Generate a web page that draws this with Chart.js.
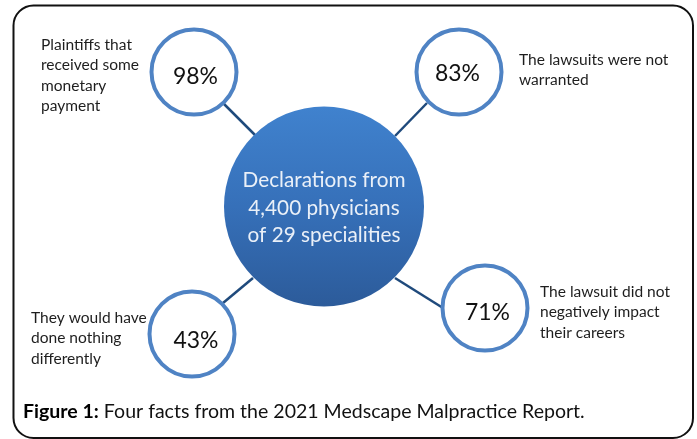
<!DOCTYPE html>
<html><head><meta charset="utf-8">
<script src="https://cdn.jsdelivr.net/npm/chart.js@4/dist/chart.umd.min.js"></script>
<style>html,body{margin:0;padding:0;background:#fff;overflow:hidden}#wrap{width:697px;height:439px}</style>
</head><body><div id="wrap"><canvas id="c" width="697" height="439"></canvas></div>
<script>
// ---- content ----
const percents = [98, 83, 43, 71];
const factLines = [
  ["Plaintiffs that", "received some", "monetary", "payment"],
  ["The lawsuits were not", "warranted"],
  ["They would have", "done nothing", "differently"],
  ["The lawsuit did not", "negatively impact", "their careers"]
];
const hubLines = ["Declarations from", "4,400 physicians", "of 29 specialities"];
const captionBold = "Figure 1:";
const captionText = " Four facts from the 2021 Medscape Malpractice Report.";

// ---- layout (units of the hidden 697x439 scales) ----
const hubPos = {x: 324, y: 206.5, r: 100};
const factPos = [{x: 194, y: 72}, {x: 459, y: 72}, {x: 192, y: 334}, {x: 485, y: 308}];
const factR = 42.5;
const connectors = [
  [{x: 224, y: 104}, {x: 255, y: 135}],
  [{x: 427, y: 103}, {x: 395, y: 136}],
  [{x: 223, y: 303}, {x: 253, y: 278}],
  [{x: 395, y: 278}, {x: 443, y: 308}]
];
const labelAnchor = [{x: 41, y: 50}, {x: 519, y: 65}, {x: 31, y: 322.7}, {x: 540, y: 296.7}];
const labelStep = 20.4;
const pctAnchor = [{x: 195.5, y: 84.3}, {x: 457.5, y: 81}, {x: 196, y: 347.7}, {x: 487.5, y: 320}];
const hubBaselines = [187.3, 214.8, 241.7];
const captionPos = {x: 23, y: 417.7};

const FONT = "Lato, 'Open Sans', sans-serif";

function fitSize(ctx, text, weight, target, base) {
  ctx.font = weight + " " + base + "px " + FONT;
  const w = ctx.measureText(text).width;
  return base * target / w;
}

const textPlugin = {
  id: 'texts',
  afterDraw(chart) {
    const ctx = chart.ctx;
    const xs = chart.scales.x, ys = chart.scales.y;
    const px = v => xs.getPixelForValue(v), py = v => ys.getPixelForValue(v);
    ctx.save();
    // frame
    ctx.strokeStyle = '#111';
    ctx.lineWidth = 2;
    ctx.beginPath();
    ctx.roundRect(px(13.5), py(5.5), px(693) - px(13.5), py(438) - py(5.5), 20);
    ctx.stroke();

    ctx.textBaseline = 'alphabetic';
    // labels
    const lblSize = fitSize(ctx, "received some", "normal", 98, 15);
    ctx.font = "normal " + lblSize + "px " + FONT;
    ctx.fillStyle = '#1e1e1e';
    ctx.textAlign = 'left';
    factLines.forEach((lines, i) => {
      lines.forEach((t, j) => ctx.fillText(t, px(labelAnchor[i].x), py(labelAnchor[i].y + j * labelStep)));
    });
    // percents
    const pSize = fitSize(ctx, "98%", "normal", 45, 22);
    ctx.font = "normal " + pSize + "px " + FONT;
    ctx.fillStyle = '#111';
    ctx.textAlign = 'center';
    percents.forEach((p, i) => ctx.fillText(p + "%", px(pctAnchor[i].x), py(pctAnchor[i].y)));
    // hub text
    const hSize = fitSize(ctx, hubLines[0], "normal", 163, 21);
    ctx.font = "normal " + hSize + "px " + FONT;
    ctx.fillStyle = '#eaf0f8';
    hubLines.forEach((t, j) => ctx.fillText(t, px(hubPos.x), py(hubBaselines[j])));
    // caption
    ctx.textAlign = 'left';
    ctx.font = "bold 18px " + FONT;
    const wb = ctx.measureText(captionBold).width;
    ctx.font = "normal 18px " + FONT;
    const wn = ctx.measureText(captionText).width;
    const cs = 18 * 562 / (wb + wn);
    ctx.font = "bold " + cs + "px " + FONT;
    ctx.fillStyle = '#000';
    ctx.fillText(captionBold, px(captionPos.x), py(captionPos.y));
    const wb2 = ctx.measureText(captionBold).width;
    ctx.font = "normal " + cs + "px " + FONT;
    ctx.fillStyle = '#111';
    ctx.fillText(captionText, px(captionPos.x) + wb2, py(captionPos.y));
    ctx.restore();
  }
};

function make() {
  const datasets = [];
  connectors.forEach(seg => datasets.push({
    type: 'line', data: seg, borderColor: '#1f4a7c', borderWidth: 2.5,
    pointRadius: 0, fill: false, order: 3, clip: false
  }));
  datasets.push({
    type: 'bubble', data: [{x: hubPos.x, y: hubPos.y, r: hubPos.r}], order: 2, borderWidth: 0, clip: false,
    backgroundColor: (c) => {
      const ch = c.chart;
      if (!ch.chartArea) return '#3670b8';
      const top = ch.scales.y.getPixelForValue(hubPos.y) - hubPos.r;
      const g = ch.ctx.createLinearGradient(0, top, 0, top + 2 * hubPos.r);
      g.addColorStop(0, '#4082ce');
      g.addColorStop(0.5, '#3670b9');
      g.addColorStop(1, '#2c5b9a');
      return g;
    }
  });
  datasets.push({
    type: 'bubble', data: factPos.map(p => ({x: p.x, y: p.y, r: factR})), order: 1, clip: false,
    backgroundColor: '#ffffff', borderColor: '#4f83c4', borderWidth: 4
  });
  new Chart(document.getElementById('c'), {
    type: 'bubble',
    data: {datasets},
    options: {
      responsive: false, animation: false, devicePixelRatio: 1, events: [],
      layout: {padding: 0, autoPadding: false},
      plugins: {legend: {display: false}, tooltip: {enabled: false}},
      scales: {
        x: {type: 'linear', min: 0, max: 697, display: false},
        y: {type: 'linear', min: 0, max: 439, reverse: true, display: false}
      }
    },
    plugins: [textPlugin]
  });
}
Promise.all([document.fonts.load("16px Lato"), document.fonts.load("bold 16px Lato")]).then(make, make);
</script>
</body></html>
